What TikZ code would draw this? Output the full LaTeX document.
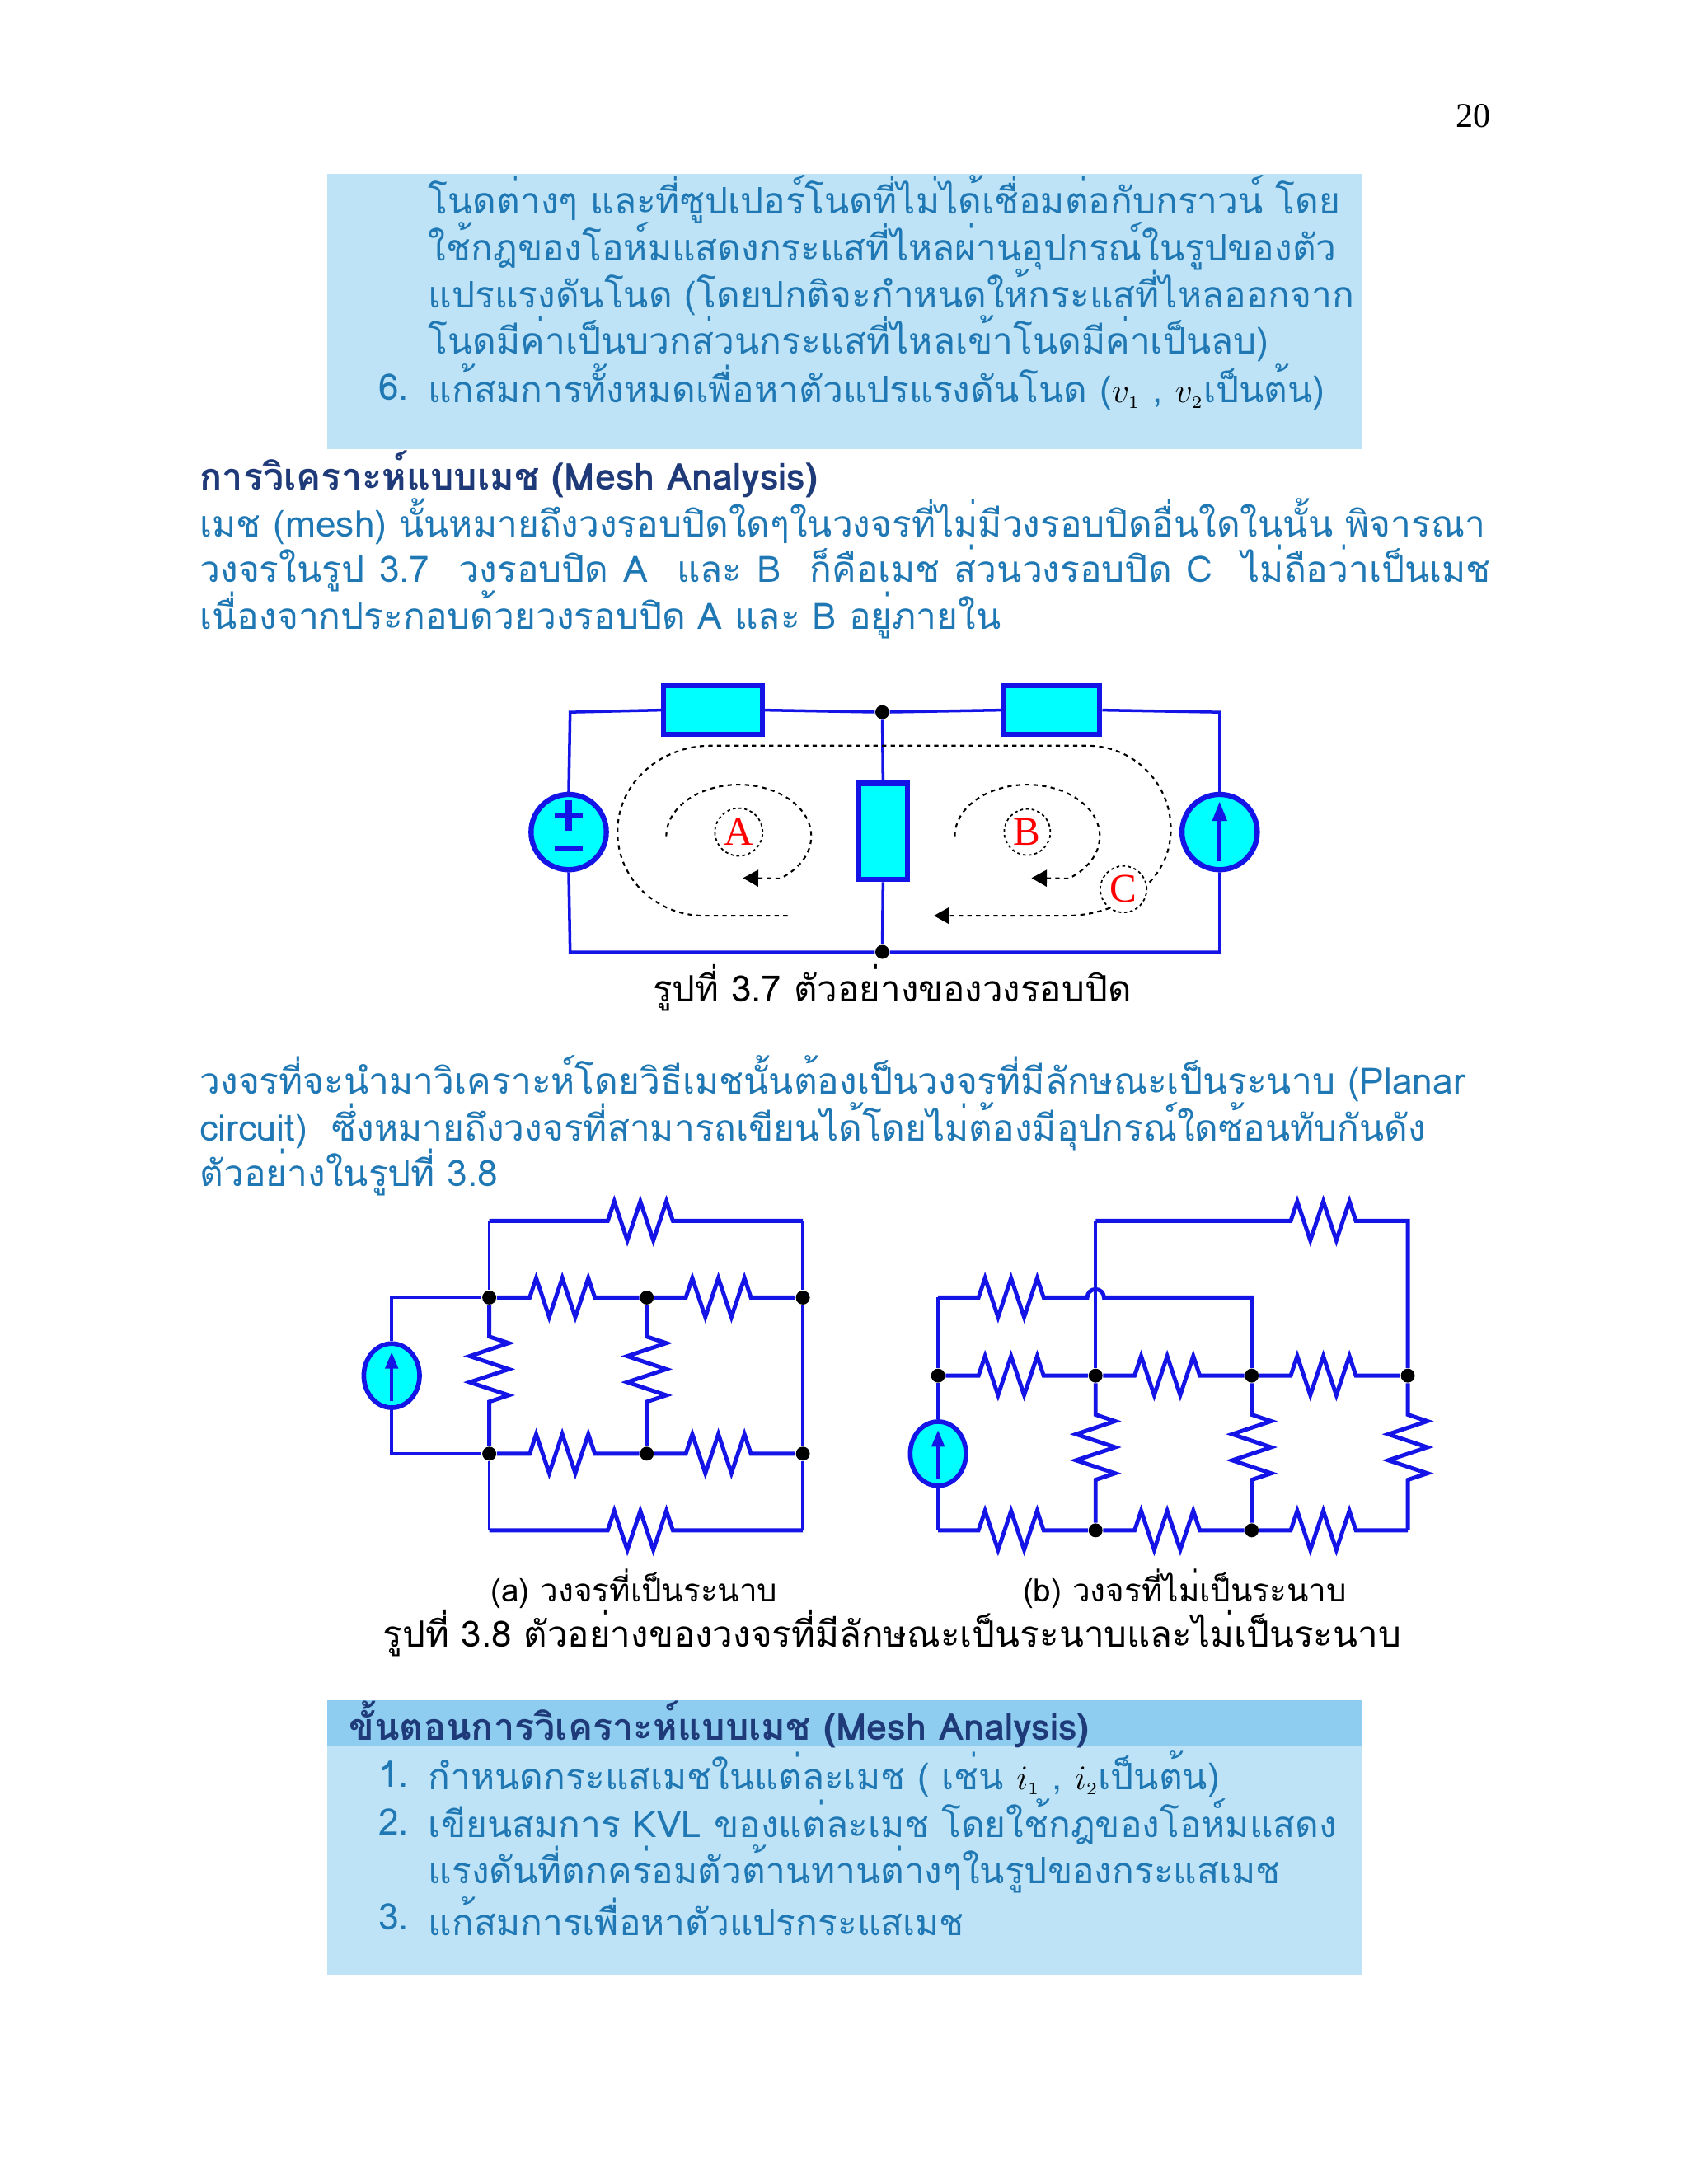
\documentclass[tikz,border=0pt]{standalone}
\usepackage{fontspec}
\usetikzlibrary{decorations.pathmorphing,arrows.meta,shapes.geometric}
\IfFontExistsTF{Loma}{\setmainfont{Loma}}{\IfFontExistsTF{Noto Sans Thai}{\setmainfont{Noto Sans Thai}}{\IfFontExistsTF{Garuda}{\setmainfont{Garuda}}{\setmainfont{Liberation Sans}}}}
\newfontfamily\serifnum{Liberation Serif}
\definecolor{boxfill}{HTML}{BEE3F6}
\definecolor{bandfill}{HTML}{8ECCF0}
\definecolor{txt}{HTML}{1F78B4}
\definecolor{head}{HTML}{1F3A78}
\definecolor{wb}{HTML}{1414E6}
\definecolor{cy}{HTML}{00FFFF}
\def\U{0.016926cm}
\newcommand\jline[1]{\makebox[15.673cm][s]{#1}}
\begin{document}
\begin{tikzpicture}[x=\U,y=\U,
  tline/.style={anchor=west,inner sep=0pt,font=\fontsize{12.6}{15}\selectfont,text=txt},
  hd/.style={anchor=west,inner sep=0pt,font=\fontsize{12.8}{15}\selectfont\bfseries,text=head},
  capt/.style={inner sep=0pt,font=\fontsize{12.5}{15}\selectfont,text=black},
  wire/.style={draw=wb,line width=1pt},
  w8/.style={draw=wb,line width=1.4pt,decoration={zigzag,segment length=18.7*\U,amplitude=14*\U}},
  comp/.style={draw=wb,fill=cy,line width=1.8pt,inner sep=0pt},
  src/.style={draw=wb,fill=cy,line width=1.8pt,circle,inner sep=0pt,minimum size=54*\U},
  src8/.style={draw=wb,fill=cy,line width=1.6pt,ellipse,inner sep=0pt,minimum width=40*\U,minimum height=46*\U},
  dot/.style={circle,fill=black,inner sep=0pt,minimum size=10*\U},
  loop/.style={draw=black,line width=0.6pt,dash pattern=on 1.5pt off 1.5pt},
  lbl/.style={circle,draw=black,line width=0.5pt,dash pattern=on 1pt off 1pt,fill=white,inner sep=1pt,text=red,font=\serifnum\fontsize{14}{14}\selectfont},
  arr/.style={-{Triangle[length=11*\U,width=12*\U]}}
]
\useasboundingbox (0,0) rectangle (1211,-1567);
% page number
\node[inner sep=0pt,font=\serifnum\fontsize{12}{12}\selectfont] (pg) at (1057,-83) {20};
% box 1
\fill[boxfill] (235,-125) rectangle (977,-322);
\node[tline] (b1) at (307,-143) {โนดต่างๆ และที่ซูปเปอร์โนดที่ไม่ได้เชื่อมต่อกับกราวน์ โดย};
\node[tline] (b2) at (307,-177) {ใช้กฎของโอห์มแสดงกระแสที่ไหลผ่านอุปกรณ์ในรูปของตัว};
\node[tline] (b3) at (307,-210) {แปรแรงดันโนด (โดยปกติจะกำหนดให้กระแสที่ไหลออกจาก};
\node[tline] (b4) at (307,-243) {โนดมีค่าเป็นบวกส่วนกระแสที่ไหลเข้าโนดมีค่าเป็นลบ)};
\node[tline] (b5n) at (271,-278) {6.};
\node[tline] (b5) at (307,-278) {แก้สมการทั้งหมดเพื่อหาตัวแปรแรงดันโนด (\textcolor{black}{$v_{\scriptscriptstyle 1}$} , \textcolor{black}{$v_{\scriptscriptstyle 2}$}เป็นต้น)};
% heading and paragraph
\node[hd] (h1) at (143,-340) {การวิเคราะห์แบบเมช (Mesh Analysis)};
\node[tline] (p1) at (143,-374) {เมช (mesh) นั้นหมายถึงวงรอบปิดใดๆในวงจรที่ไม่มีวงรอบปิดอื่นใดในนั้น พิจารณา};
\node[tline] (p2) at (143,-408) {\jline{วงจรในรูป 3.7 \ วงรอบปิด A \ และ B \ ก็คือเมช ส่วนวงรอบปิด C \ ไม่ถือว่าเป็นเมช}};
\node[tline] (p3) at (143,-441) {เนื่องจากประกอบด้วยวงรอบปิด A และ B อยู่ภายใน};
% ---- figure 3.7
\coordinate (TL) at (409,-511); \coordinate (TR) at (875,-511);
\coordinate (BL) at (409,-683); \coordinate (BR) at (875,-683);
\node[dot] (TM) at (633,-511) {};
\node[dot] (BM) at (633,-683) {};
\node[comp,minimum width=71*\U,minimum height=35*\U] (R1) at (511.5,-509.5) {};
\node[comp,minimum width=69*\U,minimum height=35*\U] (R2) at (754.5,-509.5) {};
\node[comp,minimum width=35*\U,minimum height=69*\U] (R3) at (633.5,-596.5) {};
\node[src] (VS) at (408,-597) {};
\node[src] (IS) at (875,-597) {};
\draw[wire] (VS.north) -- (TL) -- (R1.west);
\draw[wire] (R1.east) -- (TM) -- (R2.west);
\draw[wire] (R2.east) -- (TR) -- (IS.north);
\draw[wire] (IS.south) -- (BR) -- (BM) -- (BL) -- (VS.south);
\draw[wire] (TM) -- (R3.north);
\draw[wire] (R3.south) -- (BM);
\draw[wb,line width=2pt] (408,-574) -- (408,-596) (398,-585) -- (418,-585) (398,-609) -- (418,-609);
\draw[wb,line width=1.4pt,-{Triangle[length=14*\U,width=10*\U]}] (875,-618) -- (875,-575);
\node[lbl] (LA) at (530,-597) {A};
\node[lbl] (LB) at (737,-597) {B};
\draw[loop,arr] (478,-600) arc[start angle=180,end angle=-55,x radius=52,y radius=37] -- (533,-630);
\draw[loop,arr] (685,-600) arc[start angle=180,end angle=-55,x radius=52,y radius=37] -- (740,-630);
\draw[loop,arr] (565,-657) -- (505,-657) to[out=180,in=270] (443,-597) to[out=90,in=180] (510,-535) -- (780,-535) to[out=0,in=90] (840,-595) to[out=270,in=0] (765,-657) -- (670,-657);
\node[lbl] (LC) at (806,-638) {C};
\node[capt] (c37) at (640,-709) {รูปที่ 3.7 ตัวอย่างของวงรอบปิด};
% paragraph 2
\node[tline] (q1) at (143,-774) {วงจรที่จะนำมาวิเคราะห์โดยวิธีเมชนั้นต้องเป็นวงจรที่มีลักษณะเป็นระนาบ (Planar};
\node[tline] (q2) at (143,-808) {circuit) \ ซึ่งหมายถึงวงจรที่สามารถเขียนได้โดยไม่ต้องมีอุปกรณ์ใดซ้อนทับกันดัง};
\node[tline] (q3) at (143,-841) {ตัวอย่างในรูปที่ 3.8};
% ---- figure 3.8a
\node[dot] (a1) at (351,-931) {}; \node[dot] (a2) at (464,-931) {}; \node[dot] (a3) at (576,-931) {};
\node[dot] (a4) at (351,-1043) {}; \node[dot] (a5) at (464,-1043) {}; \node[dot] (a6) at (576,-1043) {};
\coordinate (t1) at (351,-876); \coordinate (t2) at (576,-876);
\coordinate (u1) at (351,-1098); \coordinate (u2) at (576,-1098);
\coordinate (s1) at (281,-931); \coordinate (s2) at (281,-1043);
\node[src8] (SA) at (281,-987) {};
\draw[wb,line width=1.2pt,-{Triangle[length=12*\U,width=9*\U]}] (281,-1005) -- (281,-970);
\draw[w8] (t1) -- (436,-876) decorate{-- (492,-876)} -- (t2);
\draw[w8] (a1) -- (380,-931) decorate{-- (436,-931)} -- (a2) -- (492,-931) decorate{-- (548,-931)} -- (a3);
\draw[w8] (a4) -- (380,-1043) decorate{-- (436,-1043)} -- (a5) -- (492,-1043) decorate{-- (548,-1043)} -- (a6);
\draw[w8] (u1) -- (436,-1098) decorate{-- (492,-1098)} -- (u2);
\draw[w8] (a1) -- (351,-959) decorate{-- (351,-1015)} -- (a4);
\draw[w8] (a2) -- (464,-959) decorate{-- (464,-1015)} -- (a5);
\draw[wire] (t1) -- (a1); \draw[wire] (a4) -- (u1);
\draw[wire] (t2) -- (a3) -- (a6) -- (u2);
\draw[wire] (SA.north) -- (s1) -- (a1);
\draw[wire] (SA.south) -- (s2) -- (a4);
% ---- figure 3.8b
\node[dot] (n1) at (673,-987) {}; \node[dot] (n2) at (786,-987) {};
\node[dot] (n3) at (898,-987) {}; \node[dot] (n4) at (1010,-987) {};
\node[dot] (m2) at (786,-1098) {}; \node[dot] (m3) at (898,-1098) {};
\coordinate (k1) at (786,-876); \coordinate (k2) at (1010,-876);
\coordinate (k3) at (673,-931); \coordinate (k4) at (898,-931);
\coordinate (k5) at (673,-1098); \coordinate (k6) at (1010,-1098);
\node[src8] (SB) at (673,-1043) {};
\draw[wb,line width=1.2pt,-{Triangle[length=12*\U,width=9*\U]}] (673,-1061) -- (673,-1026);
\draw[w8] (k1) -- (926,-876) decorate{-- (982,-876)} -- (k2) -- (n4);
\draw[w8] (k3) -- (702,-931) decorate{-- (758,-931)} -- (780,-931) arc[start angle=180,end angle=0,radius=6] -- (k4) -- (n3);
\draw[w8] (n1) -- (702,-987) decorate{-- (758,-987)} -- (n2) -- (814,-987) decorate{-- (870,-987)} -- (n3) -- (926,-987) decorate{-- (982,-987)} -- (n4);
\draw[w8] (k5) -- (702,-1098) decorate{-- (758,-1098)} -- (m2) -- (814,-1098) decorate{-- (870,-1098)} -- (m3) -- (926,-1098) decorate{-- (982,-1098)} -- (k6);
\draw[w8] (n2) -- (786,-1015) decorate{-- (786,-1071)} -- (m2);
\draw[w8] (n3) -- (898,-1015) decorate{-- (898,-1071)} -- (m3);
\draw[w8] (n4) -- (1010,-1015) decorate{-- (1010,-1071)} -- (k6);
\draw[wire] (k1) -- (n2);
\draw[wire] (k3) -- (n1) -- (SB.north);
\draw[wire] (SB.south) -- (k5);
\node[capt,font=\fontsize{11}{12}\selectfont] (la) at (455,-1140) {(a) วงจรที่เป็นระนาบ};
\node[capt,font=\fontsize{11}{12}\selectfont] (lb) at (850,-1140) {(b) วงจรที่ไม่เป็นระนาบ};
\node[capt] (c38) at (640,-1172) {รูปที่ 3.8 ตัวอย่างของวงจรที่มีลักษณะเป็นระนาบและไม่เป็นระนาบ};
% box 2
\fill[boxfill] (235,-1220) rectangle (977,-1417);
\fill[bandfill] (235,-1220) rectangle (977,-1253);
\node[hd] (h2) at (250,-1237) {ขั้นตอนการวิเคราะห์แบบเมช (Mesh Analysis)};
\node[tline] (e1n) at (271,-1273) {1.};
\node[tline] (e1) at (307,-1273) {กำหนดกระแสเมชในแต่ละเมช ( เช่น \textcolor{black}{$i_{\scriptscriptstyle 1}$} , \textcolor{black}{$i_{\scriptscriptstyle 2}$}เป็นต้น)};
\node[tline] (e2n) at (271,-1307) {2.};
\node[tline] (e2) at (307,-1307) {เขียนสมการ KVL ของแต่ละเมช โดยใช้กฎของโอห์มแสดง};
\node[tline] (e2b) at (307,-1341) {แรงดันที่ตกคร่อมตัวต้านทานต่างๆในรูปของกระแสเมช};
\node[tline] (e3n) at (271,-1375) {3.};
\node[tline] (e3) at (307,-1375) {แก้สมการเพื่อหาตัวแปรกระแสเมช};
\end{tikzpicture}
\end{document}
